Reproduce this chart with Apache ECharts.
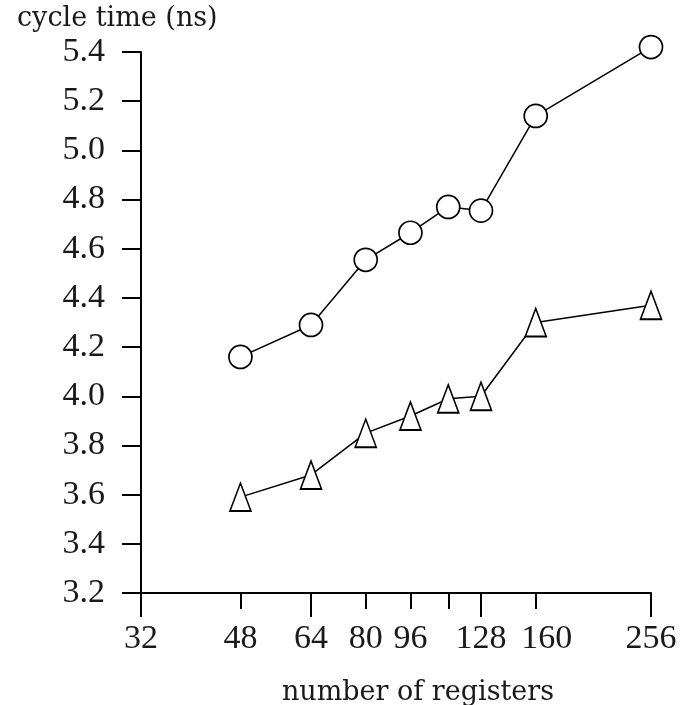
<!DOCTYPE html>
<html>
<head>
<meta charset="utf-8">
<script src="https://cdn.jsdelivr.net/npm/echarts@6/dist/echarts.min.js"></script>
<style>
  html, body { margin: 0; padding: 0; background: #fff; }
  #chart_1 { width: 685px; height: 705px; }
</style>
</head>
<body>
<div id="chart_1"></div>
<script>
// number of registers (x, log2 scale)
var registers = [48, 64, 80, 96, 112, 128, 160, 256];
// cycle time in ns
var circleTimes = [4.16, 4.29, 4.555, 4.665, 4.77, 4.755, 5.14, 5.42];
var triangleTimes = [3.59, 3.68, 3.85, 3.92, 3.99, 4.00, 4.30, 4.37];
// axis ticks / labels
var majorTicks = [32, 64, 128, 256];
var minorTicks = [48, 80, 96, 112, 160];
var xLabels = [32, 48, 64, 80, 96, 128, 160, 256];

var titleFont = 'DejaVu Serif';
var tickFont = 'Liberation Serif';
var ink = '#1a1a1a';

function pairs(xs, ys) {
  var out = [];
  for (var i = 0; i < xs.length; i++) out.push([xs[i], ys[i]]);
  return out;
}

var myChart1 = echarts.init(document.getElementById('chart_1'));
var option1 = {
  animation: false,
  title: {
    text: 'cycle time (ns)',
    left: 17,
    top: 5,
    padding: 0,
    textStyle: { fontFamily: titleFont, fontSize: 27, fontWeight: 'normal', color: ink }
  },
  grid: { left: 141, top: 52, right: 34, bottom: 112, containLabel: false, outerBoundsMode: 'none' },
  xAxis: [
    {
      type: 'log',
      logBase: 2,
      min: 32,
      max: 256,
      position: 'bottom',
      name: 'number of registers',
      nameLocation: 'middle',
      nameGap: 86,
      nameTextStyle: { fontFamily: titleFont, fontSize: 27, color: ink, padding: [0, 0, 0, 44] },
      axisLine: { lineStyle: { color: '#000', width: 2 } },
      axisTick: { customValues: majorTicks, length: 24, lineStyle: { color: '#000', width: 2 } },
      axisLabel: {
        customValues: xLabels,
        margin: 29,
        fontFamily: tickFont, fontSize: 34, color: ink,
        formatter: function (v) {
          var s = String(Math.round(v));
          // the 160 label sits a little right of its tick in the original
          return s === '160' ? '{sh|' + s + '}' : s;
        },
        rich: {
          sh: { fontFamily: tickFont, fontSize: 34, color: ink, padding: [0, 0, 0, 22] }
        }
      },
      splitLine: { show: false }
    },
    {
      type: 'log',
      logBase: 2,
      min: 32,
      max: 256,
      position: 'bottom',
      axisLine: { show: false },
      axisTick: { customValues: minorTicks, length: 16, lineStyle: { color: '#000', width: 2 } },
      axisLabel: { show: false },
      splitLine: { show: false }
    }
  ],
  yAxis: {
    type: 'value',
    min: 3.2,
    max: 5.4,
    interval: 0.2,
    axisLine: { show: true, lineStyle: { color: '#000', width: 2 } },
    axisTick: { show: true, length: 19, lineStyle: { color: '#000', width: 2 } },
    axisLabel: {
      margin: 36,
      fontFamily: tickFont, fontSize: 34, color: ink,
      formatter: function (v) { return v.toFixed(1); }
    },
    splitLine: { show: false }
  },
  series: [
    {
      name: 'circle',
      type: 'line',
      xAxisIndex: 0,
      clip: false,
      data: pairs(registers, circleTimes),
      symbol: 'circle',
      symbolSize: 23,
      showAllSymbol: true,
      lineStyle: { color: '#000', width: 1.5 },
      itemStyle: { color: '#fff', borderColor: '#000', borderWidth: 1.7 }
    },
    {
      name: 'triangle',
      type: 'line',
      xAxisIndex: 0,
      clip: false,
      data: pairs(registers, triangleTimes),
      symbol: 'triangle',
      symbolSize: [21, 28],
      showAllSymbol: true,
      lineStyle: { color: '#000', width: 1.5 },
      itemStyle: { color: '#fff', borderColor: '#000', borderWidth: 1.7 }
    }
  ]
};
myChart1.setOption(option1);
</script>
</body>
</html>
